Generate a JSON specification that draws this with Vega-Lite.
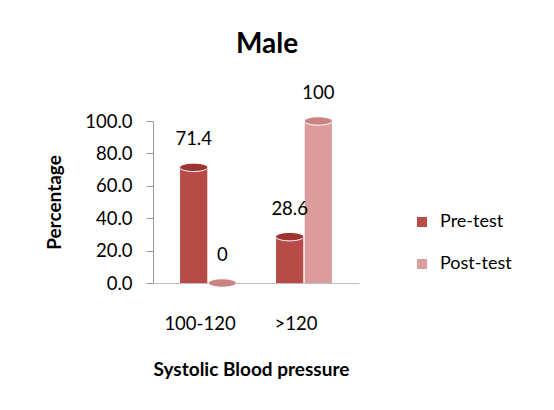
{
  "$schema": "https://vega.github.io/schema/vega-lite/v6.json",
  "width": 206,
  "height": 162,
  "autosize": {"type": "none"},
  "padding": {"left": 153, "top": 121, "right": 195, "bottom": 127},
  "background": "white",
  "title": {"text": "Male", "fontSize": 28, "fontWeight": "bold", "font": "Lato", "color": "#000000", "anchor": "middle", "frame": "group", "dx": 11, "offset": 25},
  "data": {"values": [
    {"bp": "100-120", "test": "Pre-test", "value": 71.4},
    {"bp": "100-120", "test": "Post-test", "value": 0},
    {"bp": ">120", "test": "Pre-test", "value": 28.6},
    {"bp": ">120", "test": "Post-test", "value": 100}
  ]},
  "encoding": {
    "x": {"field": "bp", "type": "nominal", "sort": ["100-120", ">120"],
      "scale": {"paddingInner": 0, "paddingOuter": 0.073},
      "axis": {"title": "Systolic Blood pressure", "labelAngle": 0, "ticks": false, "tickSize": 0, "labelPadding": 31, "labelOffset": -8, "labelFontSize": 18.5, "labelFont": "Lato", "labelColor": "#000000", "titleFontSize": 19, "titleFont": "Lato", "titleFontWeight": "bold", "titleColor": "#000000", "titlePadding": 28, "domainColor": "#bfbfbf", "titleX": 98}},
    "xOffset": {"field": "test", "type": "nominal", "sort": ["Pre-test", "Post-test"], "scale": {"paddingInner": 0.05, "paddingOuter": 0.7}},
    "y": {"field": "value", "type": "quantitative", "scale": {"domain": [0, 100]},
      "axis": {"title": "Percentage", "values": [0, 20, 40, 60, 80, 100], "format": ".1f", "grid": false, "tickSize": 7, "tickColor": "#999999", "domainColor": "#999999", "labelPadding": 14, "labelFontSize": 18.5, "labelFont": "Lato", "labelColor": "#000000", "titleFontSize": 19, "titleFont": "Lato", "titleFontWeight": "bold", "titleColor": "#000000", "titlePadding": 20}}
  },
  "layer": [
    {
      "mark": {"type": "bar"},
      "encoding": {
        "color": {"field": "test", "type": "nominal", "sort": ["Pre-test", "Post-test"],
          "scale": {"domain": ["Pre-test", "Post-test"], "range": ["#B84A47", "#DC9C9B"]},
          "legend": {"title": null, "orient": "none", "legendX": 260, "legendY": 92, "symbolType": "square", "symbolSize": 100, "symbolStrokeWidth": 0, "labelFontSize": 18, "labelFont": "Lato", "labelColor": "#000000", "labelOffset": 9, "rowPadding": 24, "padding": 0}}
      }
    },
    {
      "mark": {"type": "point", "shape": "M-1,0A1,0.3,0,1,0,1,0A1,0.3,0,1,0,-1,0Z", "size": 784, "filled": true, "stroke": "#ffffff", "strokeWidth": 1, "opacity": 1},
      "encoding": {
        "fill": {"field": "test", "type": "nominal", "sort": ["Pre-test", "Post-test"],
          "scale": {"domain": ["Pre-test", "Post-test"], "range": ["#9C3431", "#C98482"]}, "legend": null}
      }
    },
    {
      "mark": {"type": "text", "dy": -22, "baseline": "alphabetic", "fontSize": 18.5, "font": "Lato", "color": "#000000"},
      "encoding": {
        "text": {"field": "value", "type": "quantitative", "format": ".1~f"}
      }
    }
  ],
  "config": {"view": {"stroke": null}}
}
